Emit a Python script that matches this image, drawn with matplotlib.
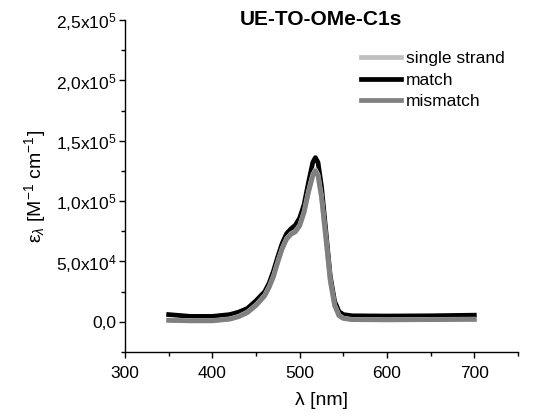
import matplotlib
matplotlib.use("Agg")
import matplotlib.pyplot as plt
from matplotlib.ticker import FixedLocator, MultipleLocator, FuncFormatter

plt.rcParams['font.family'] = ['Liberation Sans', 'DejaVu Sans']
plt.rcParams['mathtext.fontset'] = 'custom'
plt.rcParams['mathtext.rm'] = 'Liberation Sans'
plt.rcParams['mathtext.it'] = 'Liberation Sans:italic'

# Wavelengths (nm)
wavelength = [350, 375, 400, 420, 430, 440, 450, 460, 465, 470, 475, 480, 485,
              490, 495, 500, 505, 510, 515, 518, 521, 525, 530, 535, 540, 545,
              550, 560, 600, 650, 700]

# Molar extinction coefficients (M^-1 cm^-1)
single_strand = [1500, 1000, 1000, 2500, 4500, 8000, 14000, 22000, 29000, 38000,
                 50000, 61000, 69000, 73000, 75000, 80000, 91000, 108000, 122000,
                 126000, 122000, 104000, 70000, 35000, 14000, 5500, 3000, 2000,
                 1800, 2000, 2200]
match = [6000, 4500, 4500, 6000, 8000, 11000, 17500, 25000, 32000, 42000,
         54000, 65000, 73000, 77000, 80000, 86000, 97000, 115000, 132000,
         136000, 132000, 112000, 75000, 38000, 17000, 8500, 6000, 5000,
         4800, 5000, 5500]
mismatch = [1200, 800, 800, 2200, 4200, 7500, 13500, 21500, 28500, 37500,
            49500, 60500, 68500, 72500, 74500, 79500, 90500, 107000, 121000,
            125000, 121000, 103000, 69000, 34000, 13500, 5000, 2800, 1800,
            1600, 1800, 2000]

labels = ['single strand', 'match', 'mismatch']
colors = ['#c0c0c0', '#000000', '#808080']

W, H = 547, 416
fig = plt.figure(figsize=(W / 100, H / 100), dpi=100)
ax = fig.add_axes([125 / W, 64 / H, 393 / W, 332 / H])

ax.plot(wavelength, single_strand, color=colors[0], lw=3.4, label=labels[0], zorder=3)
ax.plot(wavelength, match, color=colors[1], lw=3.4, label=labels[1], zorder=2)
ax.plot(wavelength, mismatch, color=colors[2], lw=3.4, label=labels[2], zorder=4)

ax.set_xlim(300, 750)
ax.set_ylim(-25000, 250000)
ax.xaxis.set_major_locator(FixedLocator([300, 400, 500, 600, 700]))
ax.xaxis.set_minor_locator(MultipleLocator(50))
ax.yaxis.set_major_locator(MultipleLocator(50000))
ax.yaxis.set_minor_locator(MultipleLocator(25000))


def sci_fmt(v, pos):
    if abs(v) < 1e-9:
        return '0,0'
    exp = 0
    m = v
    while abs(m) >= 10:
        m /= 10
        exp += 1
    return ('%.1f' % m).replace('.', ',') + r'x10$^{%d}$' % exp


ax.yaxis.set_major_formatter(FuncFormatter(sci_fmt))

for s in ['top', 'right']:
    ax.spines[s].set_visible(False)
for s in ['left', 'bottom']:
    ax.spines[s].set_linewidth(1.0)

ax.tick_params(which='major', direction='out', length=4, width=1.0, labelsize=12.5, colors='black')
ax.tick_params(which='minor', direction='out', length=3, width=1.0)
ax.tick_params(axis='x', which='major', pad=6)
ax.tick_params(axis='y', which='major', pad=2)

ax.set_xlabel('λ [nm]', fontsize=14, labelpad=8)
ax.set_ylabel(r'ε$_{\lambda}$ [M$^{-1}$ cm$^{-1}$]', fontsize=14, labelpad=6)

fig.text(321 / W, 1 - 25 / H, 'UE-TO-OMe-C1s', ha='center', va='baseline',
         fontsize=15, fontweight='bold')

leg = ax.legend(loc='upper left', bbox_to_anchor=((361 - 125) / 393, (352 - 51) / 332),
                frameon=False, fontsize=12.5, handlelength=2.3, handletextpad=0.3,
                labelspacing=0.37, borderaxespad=0.0, borderpad=0.0)

fig.savefig('out.png', dpi=100)
